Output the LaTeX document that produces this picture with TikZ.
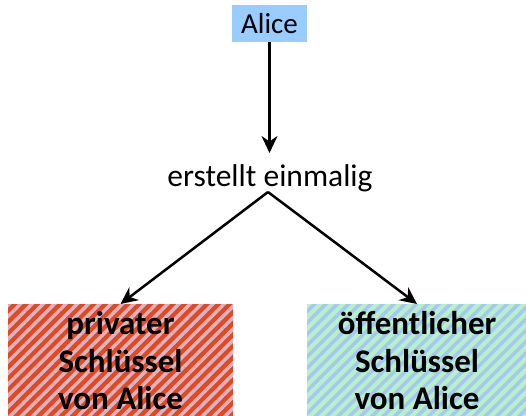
\documentclass[tikz,border=0pt]{standalone}
\usepackage{fontspec}
\setmainfont{Carlito}
\usetikzlibrary{arrows.meta,patterns.meta}
\definecolor{aliceblue}{HTML}{99CCFF}
\definecolor{privbase}{HTML}{E5471F}
\definecolor{privstripe}{HTML}{D9B5C6}
\definecolor{pubbase}{HTML}{B7F0CC}
\definecolor{pubstripe}{HTML}{A6C8EC}
\begin{document}
\begin{tikzpicture}[x=1pt,y=-1pt,
  conn/.style={line width=2.5pt,-{Stealth[length=17pt,width=16pt]}},
  personbox/.style={fill=aliceblue,minimum width=75pt,minimum height=37pt,inner sep=0pt,
    font=\fontsize{29}{32}\selectfont},
  plain/.style={inner sep=0pt,font=\fontsize{31.5}{34}\selectfont},
  keybox/.style={anchor=north,minimum height=113pt,inner sep=0pt,
    align=center,font=\bfseries\fontsize{33}{37.5}\selectfont},
  privfill/.style={fill=privbase,postaction={pattern={Lines[angle=45,distance=8pt,line width=3.5pt]},pattern color=privstripe}},
  pubfill/.style={fill=pubbase,postaction={pattern={Lines[angle=45,distance=8pt,line width=3.5pt]},pattern color=pubstripe}}
  ]
  \useasboundingbox (0,0) rectangle (526,415);
  \clip (0,0) rectangle (526,415);

  \node[personbox] (alice) at (269.5,23.5) {Alice};
  \node[plain] (erst) at (270,178) {erstellt einmalig};
  \coordinate (apex) at (268,192);

  \node[keybox,privfill,minimum width=225pt] (priv) at (120.5,304)
    {privater\\Schlüssel\\von Alice};
  \node[keybox,pubfill,minimum width=220pt] (pub) at (417,304)
    {öffentlicher\\Schlüssel\\von Alice};

  \draw[conn] (alice.south) -- (alice.south |- 0,153);
  \draw[conn] (apex) -- (priv.north);
  \draw[conn] (apex) -- (pub.north);
\end{tikzpicture}
\end{document}
